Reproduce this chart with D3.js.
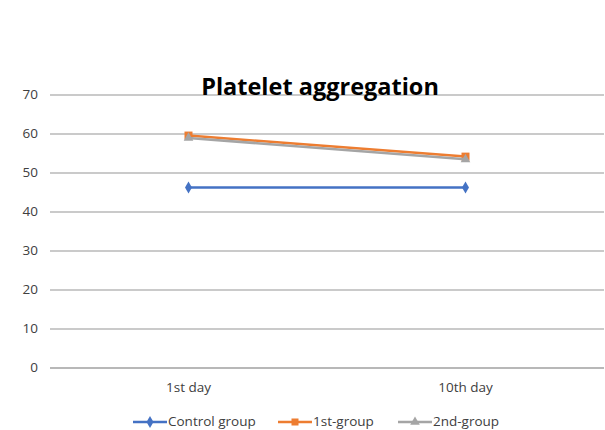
<!DOCTYPE html>
<html>
<head>
<meta charset="utf-8">
<script src="https://cdn.jsdelivr.net/npm/d3@7"></script>
<style>
  body { margin: 0; background: #fff; }
  text { font-family: "Open Sans", "Liberation Sans", sans-serif; }
</style>
</head>
<body>
<div id="chart"></div>
<script>
const categories = ["1st day", "10th day"];
const controlGroup = [46.3, 46.3];
const firstGroup = [59.6, 54.2];
const secondGroup = [59.0, 53.5];
const yTicks = [0, 10, 20, 30, 40, 50, 60, 70];

const series = [
  { name: "Control group", values: controlGroup, color: "#4472c4", marker: "diamond" },
  { name: "1st-group", values: firstGroup, color: "#ed7d31", marker: "square" },
  { name: "2nd-group", values: secondGroup, color: "#a5a5a5", marker: "triangle" },
];

const svg = d3.select("#chart").append("svg")
  .attr("width", 605)
  .attr("height", 430);

const x = d3.scalePoint()
  .domain(categories)
  .range([50, 604])
  .padding(0.5);
const y = d3.scaleLinear()
  .domain([0, 70])
  .range([368, 95]);

// gridlines
svg.append("g")
  .selectAll("line")
  .data(yTicks)
  .enter()
  .append("line")
  .attr("x1", 50)
  .attr("x2", 604)
  .attr("y1", (d) => y(d))
  .attr("y2", (d) => y(d))
  .attr("stroke", (d) => d === 0 ? "#a0a0a0" : "#b8b8b8")
  .attr("stroke-width", 1.3);

svg.append("g")
  .selectAll("text")
  .data(yTicks)
  .enter()
  .append("text")
  .text((d) => d)
  .attr("x", 38)
  .attr("y", (d) => y(d))
  .attr("text-anchor", "end")
  .attr("dominant-baseline", "middle")
  .attr("font-size", 13.5)
  .attr("fill", "#404040");

svg.append("g")
  .selectAll("text")
  .data(categories)
  .enter()
  .append("text")
  .text((d) => d)
  .attr("x", (d) => x(d))
  .attr("y", 388)
  .attr("text-anchor", "middle")
  .attr("dominant-baseline", "middle")
  .attr("font-size", 13.5)
  .attr("fill", "#404040");

svg.append("text")
  .text("Platelet aggregation")
  .attr("x", 320)
  .attr("y", 89)
  .attr("text-anchor", "middle")
  .attr("dominant-baseline", "middle")
  .attr("font-size", 23.5)
  .attr("font-weight", "bold")
  .attr("fill", "#000");

function marker(g, type, color, cx, cy, s) {
  if (type === "diamond") {
    g.append("path")
      .attr("d", d3.symbol(d3.symbolDiamond, 42)())
      .attr("transform", `translate(${cx},${cy})`)
      .attr("fill", color);
  } else if (type === "square") {
    g.append("rect")
      .attr("x", cx - s / 2).attr("y", cy - s / 2)
      .attr("width", s).attr("height", s)
      .attr("fill", color);
  } else {
    g.append("path")
      .attr("d", d3.symbol(d3.symbolTriangle, 40)())
      .attr("transform", `translate(${cx},${cy})`)
      .attr("fill", color);
  }
}

const line = d3.line()
  .x((d, i) => x(categories[i]))
  .y((d) => y(d));

const sG = svg.append("g");
series.forEach((s) => {
  sG.append("path")
    .datum(s.values)
    .attr("d", line)
    .attr("fill", "none")
    .attr("stroke", s.color)
    .attr("stroke-width", 2.5);
  s.values.forEach((v, i) => marker(sG, s.marker, s.color, x(categories[i]), y(v), 8));
});

// legend
const legendX = [133, 278, 398];
const lG = svg.append("g");
series.forEach((s, i) => {
  const lx = legendX[i];
  lG.append("line")
    .attr("x1", lx).attr("x2", lx + 34)
    .attr("y1", 422).attr("y2", 422)
    .attr("stroke", s.color)
    .attr("stroke-width", 2.5);
  marker(lG, s.marker, s.color, lx + 17, 422, 7);
  lG.append("text")
    .text(s.name)
    .attr("x", lx + 35)
    .attr("y", 422)
    .attr("dominant-baseline", "middle")
    .attr("font-size", 13.5)
    .attr("fill", "#404040");
});
</script>
</body>
</html>
